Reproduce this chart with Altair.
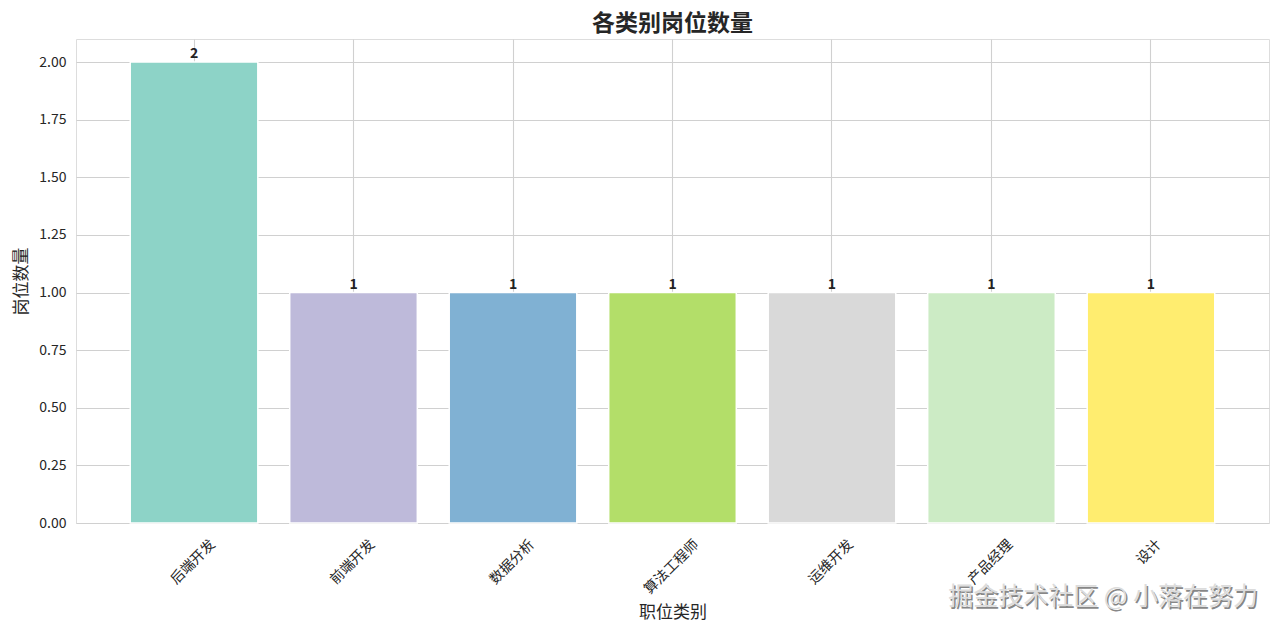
import altair as alt
import pandas as pd

categories = ["后端开发", "前端开发", "数据分析", "算法工程师", "运维开发", "产品经理", "设计"]
counts = [2, 1, 1, 1, 1, 1, 1]
colors = ["#8dd3c7", "#bebada", "#80b1d3", "#b3de69", "#d9d9d9", "#ccebc5", "#ffed6f"]
y_ticks = [0, 0.25, 0.5, 0.75, 1.0, 1.25, 1.5, 1.75, 2.0]
title_text = "各类别岗位数量"
x_title = "职位类别"
y_title = "岗位数量"
watermark = "掘金技术社区 @ 小落在努力"

FONT = "Noto Sans CJK SC"

df = pd.DataFrame({"category": categories, "count": counts})
wm = pd.DataFrame({"t": [watermark]})

x_enc = alt.X(
    "category:N",
    sort=None,
    scale=alt.Scale(paddingInner=0.2, paddingOuter=0.34),
    axis=alt.Axis(
        title=x_title,
        titleFontSize=17,
        titleFontWeight="normal",
        titleFont=FONT,
        titleColor="#262626",
        titleBaseline="middle",
        titleY=89,
        labelAngle=315,
        labelAlign="right",
        labelBaseline="middle",
        labelPadding=19,
        labelOffset={
            "condition": [
                {"test": "length(datum.label) == 2", "value": 8},
                {"test": "length(datum.label) == 5", "value": 24},
            ],
            "value": 19,
        },
        labelFontSize=14,
        labelFont=FONT,
        labelColor="#262626",
        ticks=False,
        tickSize=0,
        domain=False,
        grid=True,
        gridColor="#d0d0d0",
        gridWidth=1.1,
        bandPosition=0.5,
    ),
)

y_enc = alt.Y(
    "count:Q",
    scale=alt.Scale(domain=[0, 2.1], nice=False, zero=True),
    axis=alt.Axis(
        title=y_title,
        titleFontSize=17,
        titleFontWeight="normal",
        titleFont=FONT,
        titleColor="#262626",
        titleBaseline="middle",
        titleAngle=270,
        titleX=-55,
        values=y_ticks,
        format=".2f",
        labelFontSize=14,
        labelFont=FONT,
        labelColor="#262626",
        labelPadding=10,
        ticks=False,
        tickSize=0,
        domain=False,
        grid=True,
        gridColor="#d0d0d0",
        gridWidth=1.1,
    ),
)

bars = alt.Chart(df).mark_bar(stroke="white", strokeWidth=1.5).encode(
    x=x_enc,
    y=y_enc,
    color=alt.Color(
        "category:N",
        sort=None,
        scale=alt.Scale(domain=categories, range=colors),
        legend=None,
    ),
)

labels = alt.Chart(df).mark_text(
    baseline="bottom",
    dy=-1,
    fontSize=14,
    fontWeight="bold",
    font=FONT,
    color="#222222",
).encode(
    x=alt.X("category:N", sort=None),
    y=alt.Y("count:Q"),
    text=alt.Text("count:Q", format="d"),
)

wm_shadow = alt.Chart(wm).mark_text(
    align="right",
    baseline="middle",
    fontSize=25,
    font=FONT,
    color="#555555",
    opacity=0.7,
    dx=1.5,
    dy=1.5,
).encode(x=alt.value(1182), y=alt.value(558), text="t:N")

wm_text = alt.Chart(wm).mark_text(
    align="right",
    baseline="middle",
    fontSize=25,
    font=FONT,
    color="#dcdcdc",
).encode(x=alt.value(1182), y=alt.value(558), text="t:N")

chart = (
    alt.layer(bars, labels, wm_shadow, wm_text)
    .properties(
        width=1193,
        height=484,
        title=alt.TitleParams(
            text=title_text,
            fontSize=23,
            fontWeight="bold",
            font=FONT,
            color="#262626",
            anchor="middle",
            offset=3,
        ),
        autosize=alt.AutoSizeParams(type="none"),
        padding={"left": 68, "top": 31, "right": 3, "bottom": 102},
    )
    .configure_view(stroke="#cccccc", strokeWidth=1)
    .configure(background="white")
)

chart.save("out.html", embed_options={"renderer": "svg", "actions": False})
